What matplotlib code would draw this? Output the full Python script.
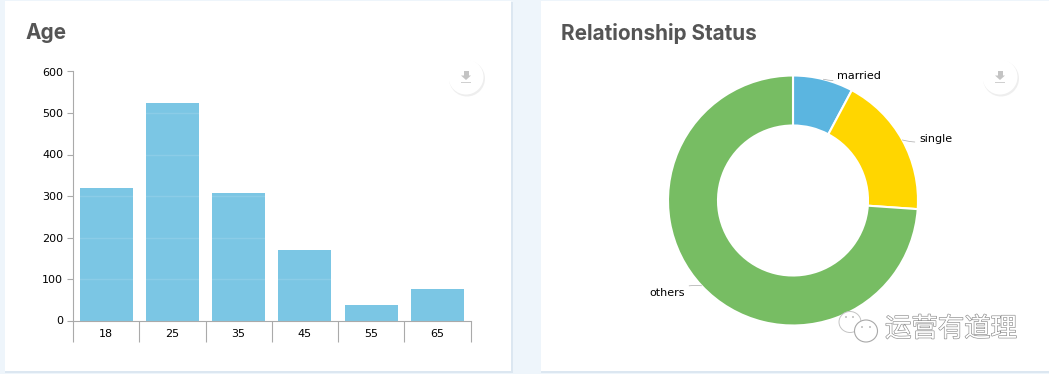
import numpy as np
import matplotlib
matplotlib.use('Agg')
import matplotlib.pyplot as plt
import matplotlib.patheffects as pe
from matplotlib.patches import Circle, Ellipse, Rectangle, Polygon

W, H = 1049, 374

# data
age_labels = ['18', '25', '35', '45', '55', '65']
age_values = [320, 524, 307, 170, 37, 76]
age_ticks = [0, 100, 200, 300, 400, 500, 600]
rel_labels = ['married', 'single', 'others']
rel_values = [78, 183, 739]
rel_colors = ['#5BB5E0', '#FFD600', '#77BD63']
label_offsets = [(10, 2), (12, 0.5), (-12, -5)]
watermark = '运营有道理'


def box(left, top, width, height):
    # pixel box to figure fractions
    return [left / W, (H - top - height) / H, width / W, height / H]


fig = plt.figure(figsize=(W / 100, H / 100), dpi=100, facecolor='#EEF5FB')

# page layer with the two cards
bg = fig.add_axes([0, 0, 1, 1], zorder=0)
bg.set_xlim(0, W)
bg.set_ylim(H, 0)
bg.axis('off')
for x0, x1 in [(5, 511), (541, 1052)]:
    bg.add_patch(Rectangle((x0, 2), x1 - x0 + 1.5, 371, fc='#DCE7F1', ec='none'))
    bg.add_patch(Rectangle((x0, 1), x1 - x0, 370, fc='white', ec='none'))
bg.text(25, 33, 'Age', fontsize=14.9, fontweight='bold', family='Inter',
        color='#555555', va='center')
bg.text(561, 33, 'Relationship Status', fontsize=14.9, fontweight='bold', family='Inter',
        color='#555555', va='center')

# age bars
ax = fig.add_axes(box(73, 71.5, 397.5, 249), zorder=1)
ax.patch.set_alpha(0)
x = np.arange(len(age_labels))
ax.bar(x, age_values, width=0.8, color='#7BC6E4', zorder=2)
ax.set_xlim(-0.5, 5.5)
ax.set_ylim(0, 600)
ax.set_yticks(age_ticks)
ax.tick_params(axis='y', length=4, width=0.8, color='#AAAAAA', labelsize=8, pad=3)
ax.set_xticks(np.arange(-0.5, 6, 1))
ax.set_xticklabels([])
ax.tick_params(axis='x', which='major', length=15, width=0.8, color='#AAAAAA')
ax.set_xticks(x, minor=True)
ax.set_xticklabels(age_labels, minor=True)
ax.tick_params(axis='x', which='minor', length=0, labelsize=8, pad=6)
ax.grid(axis='y', color='white', alpha=0.12, linewidth=1, zorder=3)
ax.set_axisbelow(False)
for s in ['top', 'right']:
    ax.spines[s].set_visible(False)
for s in ['left', 'bottom']:
    ax.spines[s].set_color('#AAAAAA')
    ax.spines[s].set_linewidth(0.8)

# relationship donut
ax2 = fig.add_axes(box(793 - 127.5, 200.5 - 127.5, 255, 255), zorder=1)
ax2.pie(rel_values, colors=rel_colors, startangle=90, counterclock=False, radius=1,
        wedgeprops=dict(width=0.4, edgecolor='white', linewidth=1.5))
ax2.set_xlim(-1.02, 1.02)
ax2.set_ylim(-1.02, 1.02)
edges = np.cumsum([0] + rel_values) / sum(rel_values) * 2 * np.pi
for i, name in enumerate(rel_labels):
    mid = (edges[i] + edges[i + 1]) / 2
    ha = 'left' if np.sin(mid) > 0 else 'right'
    ax2.annotate(name, xy=(np.sin(mid), np.cos(mid)), xytext=label_offsets[i],
                 textcoords='offset points', fontsize=8, ha=ha, va='center', color='black',
                 annotation_clip=False,
                 arrowprops=dict(arrowstyle='-', color='#AAAAAA', lw=0.5, shrinkA=1, shrinkB=0,
                                 connectionstyle='arc3,rad=-0.15'))

# download buttons and watermark on top
fg = fig.add_axes([0, 0, 1, 1], zorder=5)
fg.set_xlim(0, W)
fg.set_ylim(H, 0)
fg.axis('off')
for cx, cy in [(466, 77), (1000, 77)]:
    fg.add_patch(Circle((cx + 1, cy + 1.5), 18, fc='#E8E8E8', ec='none', alpha=0.7))
    fg.add_patch(Circle((cx, cy), 17.5, fc='white', ec='none'))
    fg.add_patch(Rectangle((cx - 2.5, cy - 6), 5, 5, fc='#C4C4C4', ec='none'))
    fg.add_patch(Polygon([(cx - 5, cy - 1.5), (cx + 5, cy - 1.5), (cx, cy + 3)], fc='#C4C4C4', ec='none'))
    fg.add_patch(Rectangle((cx - 5, cy + 5), 10, 1.2, fc='#D0D0D0', ec='none'))

# wechat bubbles
fg.add_patch(Ellipse((850, 322), 22, 21, fc='white', ec='#C4C4C4', lw=0.7))
fg.add_patch(Ellipse((866, 331), 23, 22, fc='white', ec='#A8A8A8', lw=0.8))
for px, py in [(846, 317), (853, 317), (862, 327), (870, 327)]:
    fg.add_patch(Circle((px, py), 0.8, fc='#999999', ec='none'))
fg.text(951, 329, watermark, fontsize=19, family=['Noto Sans CJK SC', 'DejaVu Sans'],
        color='white', ha='center', va='center',
        path_effects=[pe.withStroke(linewidth=0.9, foreground='#8A8A8A')])

fig.savefig('out.png', dpi=100, facecolor=fig.get_facecolor())
